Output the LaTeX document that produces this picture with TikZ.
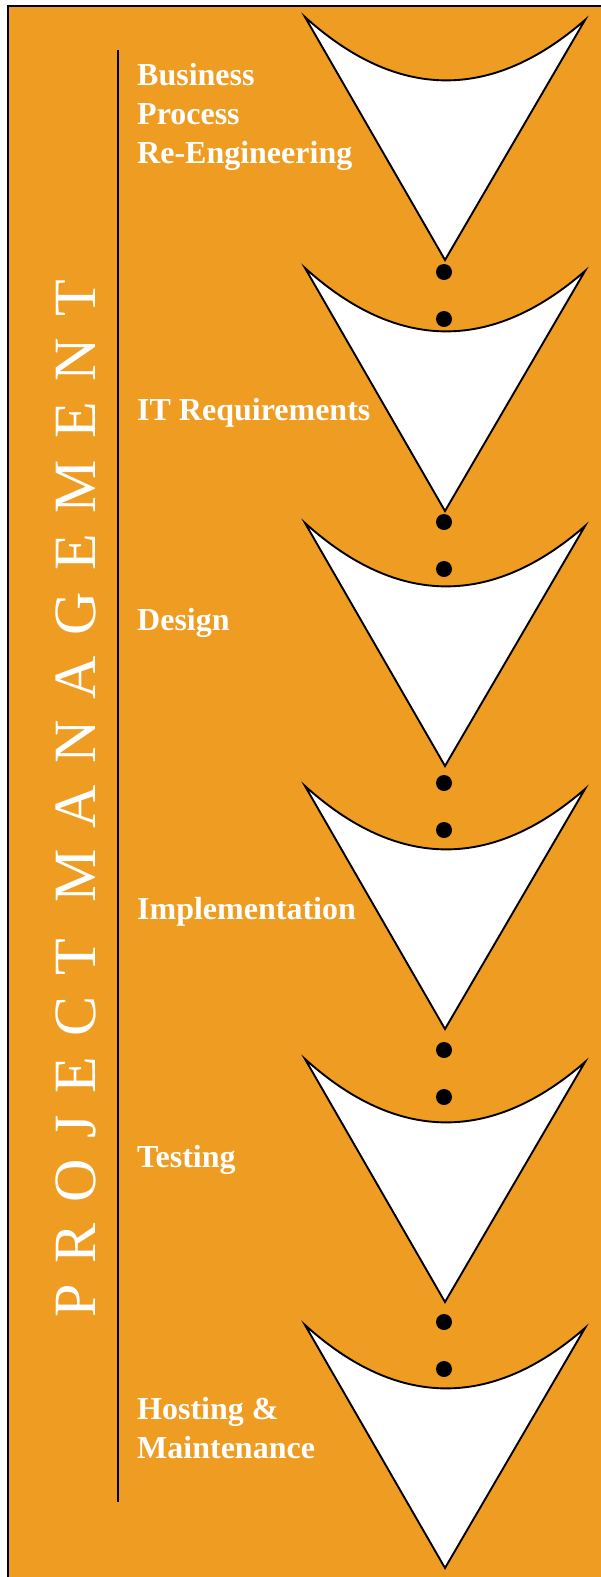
\documentclass[tikz,border=0pt]{standalone}
\usepackage{fontspec}
\setmainfont{Liberation Serif}
\definecolor{pmorange}{RGB}{239,156,35}

\begin{document}
\begin{tikzpicture}[x=1pt,y=-1pt,
	stage/.style={fill=white, draw=black, line width=1.9pt, line join=miter},
	dot/.style={circle, fill=black, inner sep=0pt, minimum size=16pt},
	phase/.style={text=white, font=\bfseries\fontsize{32}{39}\selectfont, align=left, anchor=base west, inner sep=0pt}]
	\useasboundingbox (0,0) rectangle (601,1577);
	\fill[pmorange] (8,6) rectangle (601,1577);
	\draw[line width=2.5pt] (8,1577) -- (8,6) -- (601,6);
	% rule beside the title
	\coordinate (ruletop) at (118,50);
	\coordinate (rulebottom) at (118,1502);
	\draw[line width=1.8pt] (ruletop) -- (rulebottom);
	% the six stages
	\foreach \y/\n in {17/1,268/2,523/3,786/4,1059/5,1325/6}
		\draw[stage] (305,\y) coordinate (left\n)
			.. controls (398,\y+84) and (492,\y+84) .. (585,\y+3) coordinate (right\n)
			-- (445,\y+243) coordinate (tip\n) -- cycle;
	% dots between the stages
	\foreach \y [count=\i] in {272,522,783,1050,1322} {
		\node[dot] (upper\i) at (444,\y) {};
		\node[dot] (lower\i) at (444,\y+47) {};
	}
	% labels (base of the last line)
	\node[phase] (bpr) at (137,163) {Business\\Process\\Re-Engineering};
	\node[phase] (itreq) at (137,420) {IT Requirements};
	\node[phase] (design) at (137,630) {Design};
	\node[phase] (impl) at (137,919) {Implementation};
	\node[phase] (testing) at (137,1167) {Testing};
	\node[phase] (hosting) at (137,1458) {Hosting \&\\Maintenance};
	\node[text=white, rotate=90, anchor=base west, inner sep=0pt,
		font=\fontsize{60}{60}\selectfont\addfontfeature{LetterSpace=35}] (pm) at (95,1318) {PROJECT MANAGEMENT};
\end{tikzpicture}
\end{document}
